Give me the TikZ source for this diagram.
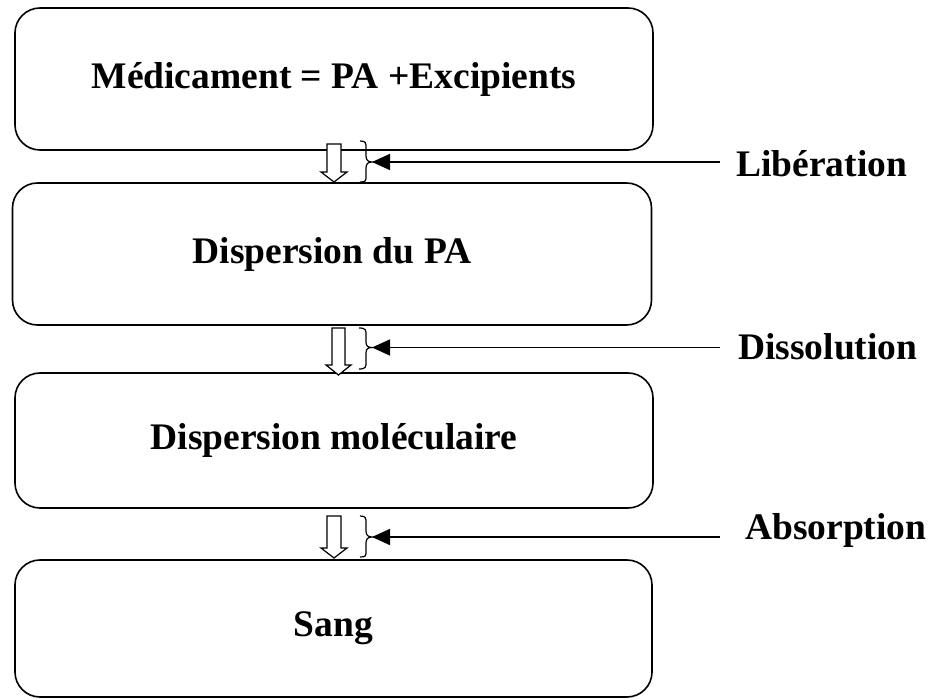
\documentclass[tikz,border=0pt]{standalone}
\usepackage{fontspec}
\setmainfont{Liberation Serif}
\usetikzlibrary{arrows.meta}
\begin{document}
\begin{tikzpicture}[x=1pt,y=-1pt,
  box/.style={draw,line width=1.6pt,rounded corners=25pt,inner sep=0pt,
    font=\fontsize{37.5}{40}\selectfont\bfseries},
  lbl/.style={anchor=west,inner sep=0pt,font=\fontsize{37.5}{40}\selectfont\bfseries},
  hollow/.style={draw,line width=1.2pt,fill=white},
  brc/.style={draw,line width=1.2pt},
  conn/.style={draw,line width=1.6pt,-{Triangle[length=18pt,width=16pt]}}]
\useasboundingbox (0,0) rectangle (932,700);
\node[box,minimum width=638pt,minimum height=142pt,text depth=8pt] (b1) at (334,79) {Médicament = PA +Excipients};
\node[box,minimum width=639pt,minimum height=142pt] (b2) at (332,254) {Dispersion du PA};
\node[box,minimum width=638pt,minimum height=135pt] (b3) at (334,440.5) {Dispersion moléculaire};
\node[box,minimum width=637pt,minimum height=137pt] (b4) at (333.5,628.5) {Sang};
% hollow arrows
\draw[hollow] (327,144) -- (341,144) -- (341,172) -- (347,172) -- (334,182) -- (321,172) -- (327,172) -- cycle;
\draw[hollow] (332,328) -- (345,328) -- (345,365) -- (351,365) -- (338.5,375) -- (326,365) -- (332,365) -- cycle;
\draw[hollow] (327,516) -- (341,516) -- (341,548) -- (347,548) -- (334,558) -- (321,548) -- (327,548) -- cycle;
% braces
\coordinate (t1) at (372,162);
\coordinate (t2) at (372,347.5);
\coordinate (t3) at (372,537);
\draw[brc] (360,141) .. controls (366,141) and (366,143) .. (366,148) -- (366,156) .. controls (366,160) and (368,162) .. (t1)
  .. controls (368,162) and (366,164) .. (366,168) -- (366,176) .. controls (366,181) and (366,182) .. (360,182);
\draw[brc] (359,328) .. controls (366,328) and (366,330) .. (366,335) -- (366,342) .. controls (366,346) and (368,347.5) .. (t2)
  .. controls (368,347.5) and (366,349) .. (366,353) -- (366,362) .. controls (366,367) and (366,369) .. (359,369);
\draw[brc] (360,516) .. controls (366,516) and (366,518) .. (366,523) -- (366,531) .. controls (366,535) and (368,537) .. (t3)
  .. controls (368,537) and (366,539) .. (366,543) -- (366,551) .. controls (366,556) and (366,557) .. (360,557);
% labels
\node[lbl] (l1) at (736,164) {Libération};
\node[lbl] (l2) at (738,347) {Dissolution};
\node[lbl] (l3) at (745,530) {Absorption};
\coordinate (s1) at (720,162);
\coordinate (s2) at (720,347.5);
\coordinate (s3) at (720,537);
\draw[conn] (s1) -- (t1);
\draw[conn] (s2) -- (t2);
\draw[conn] (s3) -- (t3);
\end{tikzpicture}
\end{document}
